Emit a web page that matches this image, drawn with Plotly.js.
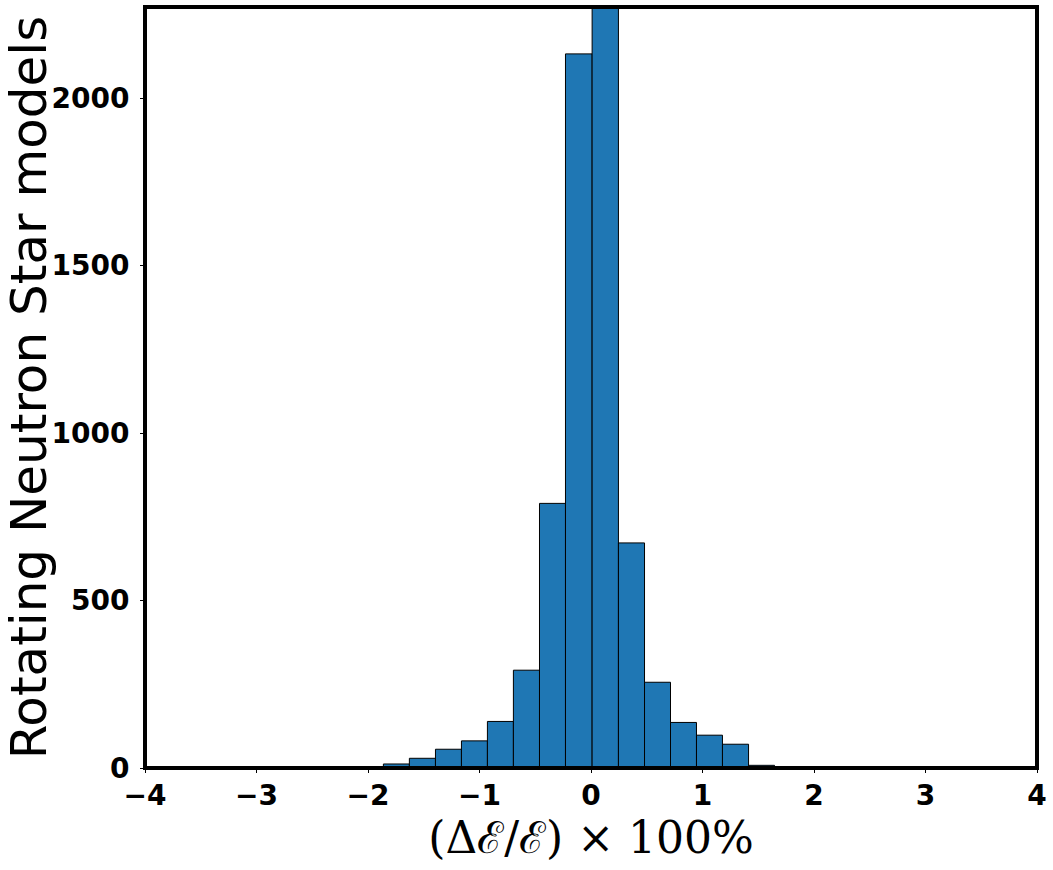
<!DOCTYPE html>
<html>
<head>
<meta charset="utf-8">
<script src="https://cdn.plot.ly/plotly-3.0.1.min.js"></script>
<style>html,body{margin:0;padding:0;background:#fff;}#chart{width:1053px;height:870px;}</style>
</head>
<body>
<div id="chart"></div>
<script>
// Bin edges of the histogram (ΔE/E × 100%)
var binEdges = [-1.862, -1.629, -1.395, -1.162, -0.929, -0.696, -0.462, -0.229, 0.010, 0.246, 0.480, 0.713, 0.946, 1.179, 1.413, 1.646];
// Counts per bin (the bin at 0.01–0.25 is clipped by the axis top)
var counts = [12, 29, 56, 81, 139, 292, 790, 2132, 2450, 672, 256, 136, 98, 71, 8];
var xTickVals = [-4, -3, -2, -1, 0, 1, 2, 3, 4];
var yTickVals = [0, 500, 1000, 1500, 2000];

var centers = [], widths = [];
for (var i = 0; i < counts.length; i++) {
  centers.push((binEdges[i] + binEdges[i + 1]) / 2);
  widths.push(binEdges[i + 1] - binEdges[i]);
}

var trace = {
  type: 'bar',
  x: centers,
  y: counts,
  width: widths,
  marker: { color: '#1f77b4', line: { color: '#000000', width: 1 } },
  hoverinfo: 'x+y'
};

var tickFont = { family: 'DejaVu Sans', size: 28, color: '#000', weight: 'bold' };

var layout = {
  width: 1053,
  height: 870,
  margin: { l: 145, r: 16, t: 7, b: 102 },
  paper_bgcolor: '#fff',
  plot_bgcolor: '#fff',
  showlegend: false,
  bargap: 0,
  xaxis: {
    range: [-4, 4],
    tickvals: xTickVals,
    ticktext: xTickVals.map(function (v) { return v < 0 ? '\u2212' + Math.abs(v) : String(v); }),
    showgrid: false,
    zeroline: false,
    showline: false,
    ticks: 'outside', ticklen: 4, tickwidth: 1, tickcolor: '#000',
    ticklabelstandoff: -2,
    tickfont: tickFont,
    title: { text: '(\u0394\u2130/\u2130) \u00d7 100%', font: { family: 'DejaVu Serif', size: 44, color: '#000' }, standoff: 0 }
  },
  yaxis: {
    range: [0, 2272],
    tickvals: yTickVals,
    showgrid: false,
    zeroline: false,
    showline: false,
    ticks: 'outside', ticklen: 4, tickwidth: 1, tickcolor: '#000',
    ticklabelstandoff: 5,
    tickfont: tickFont,
    title: { text: 'Rotating Neutron Star models', font: { family: 'DejaVu Sans', size: 50, color: '#000' }, standoff: 3 }
  },
  shapes: [{
    type: 'rect', xref: 'paper', yref: 'paper', x0: 0, x1: 1, y0: 0, y1: 1,
    line: { color: '#000', width: 4 }, fillcolor: 'rgba(0,0,0,0)', layer: 'above'
  }]
};

Plotly.newPlot('chart', [trace], layout, { displayModeBar: false, staticPlot: true });
</script>
</body>
</html>
